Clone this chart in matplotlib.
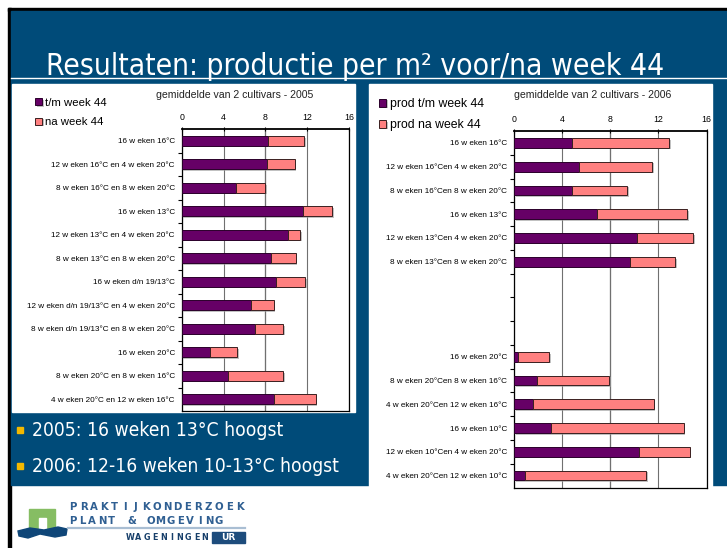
import numpy as np
import matplotlib
matplotlib.use("Agg")
import matplotlib.pyplot as plt
import matplotlib.patches as mpatches
import matplotlib.patheffects as pe
from matplotlib import font_manager as fm

W, H = 727, 548

# 2005 chart
labels_2005 = [
    "16 w eken 16°C",
    "12 w eken 16°C en 4 w eken 20°C",
    "8 w eken 16°C en 8 w eken 20°C",
    "16 w eken 13°C",
    "12 w eken 13°C en 4 w eken 20°C",
    "8 w eken 13°C en 8 w eken 20°C",
    "16 w eken d/n 19/13°C",
    "12 w eken d/n 19/13°C en 4 w eken 20°C",
    "8 w eken d/n 19/13°C en 8 w eken 20°C",
    "16 w eken 20°C",
    "8 w eken 20°C en 8 w eken 16°C",
    "4 w eken 20°C en 12 w eken 16°C",
]
tm_2005 = [8.3, 8.2, 5.2, 11.6, 10.2, 8.5, 9.0, 6.6, 7.0, 2.7, 4.4, 8.8]
na_2005 = [3.4, 2.6, 2.8, 2.8, 1.1, 2.4, 2.8, 2.2, 2.7, 2.6, 5.3, 4.0]

# 2006 chart (three empty rows in the middle)
labels_2006 = [
    "16 w eken 16°C",
    "12 w eken 16°Cen 4 w eken 20°C",
    "8 w eken 16°Cen 8 w eken 20°C",
    "16 w eken 13°C",
    "12 w eken 13°Cen 4 w eken 20°C",
    "8 w eken 13°Cen 8 w eken 20°C",
    "", "", "",
    "16 w eken 20°C",
    "8 w eken 20°Cen 8 w eken 16°C",
    "4 w eken 20°Cen 12 w eken 16°C",
    "16 w eken 10°C",
    "12 w eken 10°Cen 4 w eken 20°C",
    "4 w eken 20°Cen 12 w eken 10°C",
]
nan = np.nan
tm_2006 = [4.8, 5.4, 4.8, 6.9, 10.2, 9.6, nan, nan, nan, 0.3, 1.9, 1.6, 3.1, 10.4, 0.9]
na_2006 = [8.1, 6.1, 4.6, 7.5, 4.7, 3.8, nan, nan, nan, 2.6, 6.0, 10.0, 11.0, 4.2, 10.1]

xticks = [0, 4, 8, 12, 16]

BLUE = "#004b79"
PURPLE = "#660066"
PINK = "#ff8080"
ARIAL = ["Liberation Sans", "DejaVu Sans"]


def narrow_font():
    # look for some condensed sans face, otherwise plain DejaVu
    prefs = ["LiberationSansNarrow-Regular", "LiberationSansNarrow",
             "DejaVuSansCondensed.", "NotoSans-Condensed", "Roboto_Condensed",
             "RobotoCondensed-Regular", "OpenSans-Condensed", "OpenSans_Condensed"]
    bad = ["Bold", "Italic", "Oblique", "Light", "Medium", "Black", "Thin", "Semi", "Extra"]
    files = [f.fname for f in fm.fontManager.ttflist]
    for p in prefs:
        for fn in files:
            base = fn.split("/")[-1]
            if p in base and not any(b in base for b in bad):
                return fm.FontProperties(fname=fn)
    for fn in files:
        base = fn.split("/")[-1]
        if ("Narrow" in base or "Condensed" in base) and not any(b in base for b in bad):
            return fm.FontProperties(fname=fn)
    return fm.FontProperties(family="DejaVu Sans")


NARROW = narrow_font()

fig = plt.figure(figsize=(W / 100, H / 100), dpi=100, facecolor="white")
renderer = fig.canvas.get_renderer()


def fit_width(t, target):
    w = t.get_window_extent(renderer).width
    t.set_fontsize(t.get_fontsize() * target / w)


# background layer in pixel coordinates
bg = fig.add_axes([0, 0, 1, 1], zorder=0)
bg.set_xlim(0, W)
bg.set_ylim(H, 0)
bg.axis("off")

bg.add_patch(mpatches.Rectangle((8, 8), W - 8, 3, color="black"))
bg.add_patch(mpatches.Rectangle((8, 8), 3, H - 8, color="black"))
bg.add_patch(mpatches.Rectangle((11, 11), W - 11, 474, color=BLUE))
bg.plot([11, W], [77.5, 77.5], color="white", lw=1)
title = bg.text(46, 75, "Resultaten: productie per m² voor/na week 44", color="white",
                fontproperties=NARROW, va="baseline", ha="left")
title.set_fontsize(23)
fit_width(title, 622)

# chart panels
bg.add_patch(mpatches.Rectangle((12, 84), 343, 328, color="white"))
bg.add_patch(mpatches.Rectangle((369, 84), 343, 404, color="white"))

# bullets
for yb, txt, wd in [(430, "2005: 16 weken 13°C hoogst", 253),
                    (466, "2006: 12-16 weken 10-13°C hoogst", 308)]:
    bg.add_patch(mpatches.Rectangle((17, yb - 3.5), 6, 6, color="#f2b800"))
    t = bg.text(32, yb, txt, color="white", fontproperties=NARROW, va="center")
    t.set_fontsize(14)
    fit_width(t, wd)

# logo
bg.add_patch(mpatches.Rectangle((29, 509), 26, 21, color="#86bd63"))
bg.add_patch(mpatches.Rectangle((38.5, 517.5), 7.5, 13, color="white"))
wave = mpatches.Polygon([(18, 531), (30, 528), (44, 530), (58, 527), (67, 529),
                         (66, 535), (55, 537), (40, 534), (28, 538), (19, 536)],
                        closed=True, color="#0f4678")
bg.add_patch(wave)
LOGO = "#2f5f92"
for txt, y0, x0, x1 in [("PRAKTIJKONDERZOEK", 507, 68, 245),
                        ("PLANT & OMGEVING", 520.5, 68, 224)]:
    step = (x1 - x0) / len(txt)
    for i, ch in enumerate(txt):
        bg.text(x0 + step * (i + 0.5), y0, ch, color=LOGO, fontsize=7.3,
                weight="bold", family="DejaVu Sans", ha="center", va="center")
bg.plot([68, 245], [527.8, 527.8], color="#a9bed3", lw=1.6)
txt = "WAGENINGEN"
step = (209 - 126) / len(txt)
for i, ch in enumerate(txt):
    bg.text(126 + step * (i + 0.5), 537.5, ch, color="#173f6a", fontsize=5.8,
            weight="bold", family="DejaVu Sans", ha="center", va="center")
bg.add_patch(mpatches.Rectangle((212, 532), 33, 11, color="#1d4c7c"))
bg.text(228.5, 537.5, "UR", color="white", fontsize=6.5, weight="bold",
        family="DejaVu Sans", ha="center", va="center")


def px_axes(x0, y0, x1, y1):
    return fig.add_axes([x0 / W, 1 - y1 / H, (x1 - x0) / W, (y1 - y0) / H], zorder=2)


def draw_chart(ax, labels, tm, na, names, subtitle, sub_xy, leg_xy, leg_size, leg_sp):
    n = len(labels)
    y = np.arange(n)
    shadow = [pe.SimplePatchShadow(offset=(1.2, -1.2), shadow_rgbFace="#999999", alpha=0.6),
              pe.Normal()]
    b1 = ax.barh(y, tm, height=0.41, color=PURPLE, edgecolor="#2a002a", lw=0.7,
                 label=names[0], zorder=3)
    b2 = ax.barh(y, na, left=tm, height=0.41, color=PINK, edgecolor="#3a2020", lw=0.7,
                 label=names[1], zorder=3)
    for b in list(b1) + list(b2):
        b.set_path_effects(shadow)
    ax.set_xlim(0, 16)
    ax.set_ylim(n - 0.5, -0.5)
    ax.xaxis.tick_top()
    ax.set_xticks(xticks)
    ax.set_xticklabels([str(t) for t in xticks], fontsize=6.3, family=ARIAL)
    ax.tick_params(axis="x", length=2.5, width=0.8, pad=4, direction="inout")
    ax.set_yticks(y)
    ax.set_yticklabels(labels, fontsize=5.85, family=ARIAL)
    ax.tick_params(axis="y", which="major", length=0, pad=5)
    ax.set_yticks(np.arange(n - 1) + 0.5, minor=True)
    ax.tick_params(axis="y", which="minor", length=3, width=0.8)
    ax.grid(axis="x", color="#707070", lw=0.8, zorder=1)
    ax.axvline(xticks[2], color="#111111", lw=0.8, zorder=1)
    for s in ax.spines.values():
        s.set_linewidth(0.9)
    ax.spines["top"].set_linewidth(1.3)
    bg.text(sub_xy[0], sub_xy[1], subtitle, fontsize=7.6, family=ARIAL,
            ha="center", va="center", color="#222222")
    ax.legend(handles=[b1, b2], loc="upper left", bbox_to_anchor=(leg_xy[0] / W, 1 - leg_xy[1] / H),
              bbox_transform=fig.transFigure, frameon=False, handlelength=0.6,
              handleheight=0.6, handletextpad=0.3, labelspacing=leg_sp,
              borderpad=0, borderaxespad=0, prop={"family": ARIAL, "size": leg_size})


ax1 = px_axes(181.7, 129, 349, 411)
draw_chart(ax1, labels_2005, tm_2005, na_2005, ["t/m week 44", "na week 44"],
           "gemiddelde van 2 cultivars - 2005", (235, 95), (35, 97.5), 8.2, 0.85)

ax2 = px_axes(514, 131, 706.5, 487.5)
draw_chart(ax2, labels_2006, tm_2006, na_2006, ["prod t/m week 44", "prod na week 44"],
           "gemiddelde van 2 cultivars - 2006", (593, 95), (379, 98), 8.8, 0.75)

fig.savefig("out.png", dpi=100, facecolor="white")
